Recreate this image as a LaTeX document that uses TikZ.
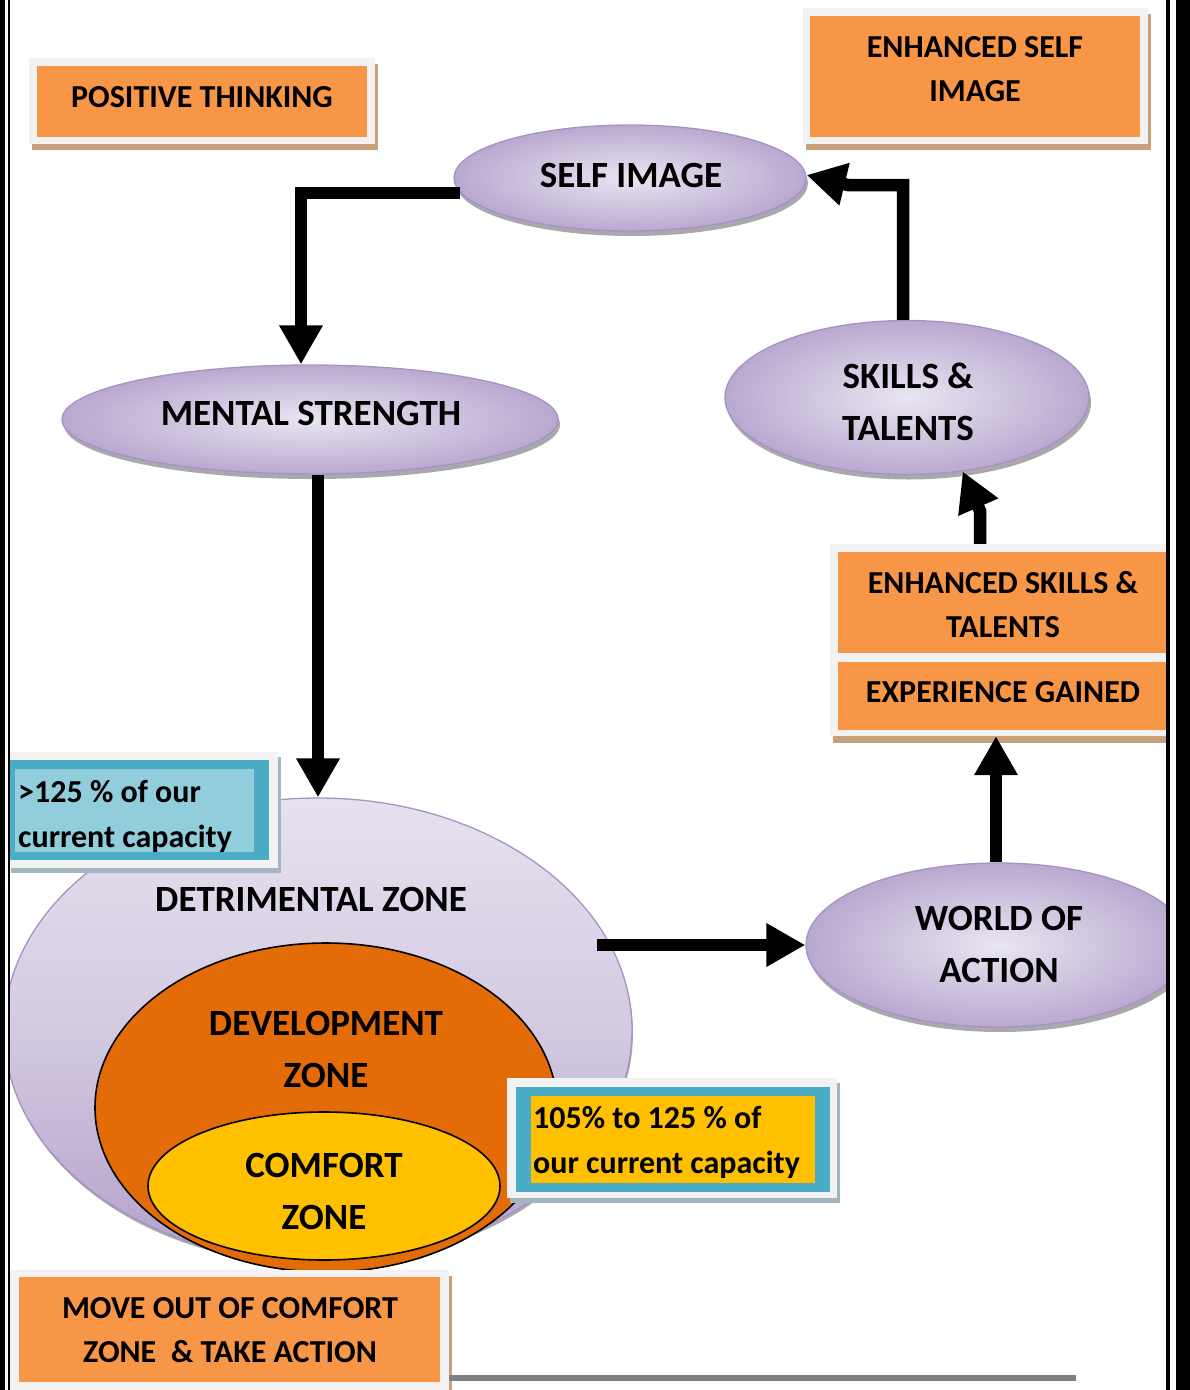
\documentclass[tikz,border=0pt]{standalone}
\usepackage{fontspec}
\setmainfont{Carlito}
\usetikzlibrary{shapes.geometric,arrows.meta,shadows}

\definecolor{boxorange}{HTML}{F79646}
\definecolor{framegray}{HTML}{F2F2F2}
\definecolor{tanshadow}{HTML}{C9A07C}
\definecolor{blueshadow}{HTML}{A2B6C1}
\definecolor{capblue}{HTML}{4BACC6}
\definecolor{paleblue}{HTML}{92CDDC}
\definecolor{gold}{HTML}{FFC000}
\definecolor{devorange}{HTML}{E36C09}
\definecolor{lavin}{HTML}{E9E5F1}
\definecolor{lavout}{HTML}{B9A9D0}
\definecolor{lavtop}{HTML}{E6E1EE}
\definecolor{lavbottom}{HTML}{B3A1CA}
\definecolor{lavborder}{HTML}{A792C5}
\definecolor{ellshadow}{HTML}{A9A9AD}
\definecolor{rulegray}{HTML}{808080}

\begin{document}
\begin{tikzpicture}[x=1pt,y=-1pt,
  boxtext/.style={font=\bfseries\fontsize{32}{44}\selectfont, align=center, inner sep=0pt},
  boxtextl/.style={font=\bfseries\fontsize{32}{45}\selectfont, align=left, inner sep=0pt, anchor=west},
  elltext/.style={font=\bfseries\fontsize{37}{52}\selectfont, align=center, inner sep=0pt},
  panel/.style={fill=framegray, inner sep=0pt, drop shadow={shadow xshift=2.5pt, shadow yshift=-6pt, fill=tanshadow, opacity=1}},
  bluepanel/.style={fill=framegray, inner sep=0pt, drop shadow={shadow xshift=3pt, shadow yshift=-5pt, fill=blueshadow, opacity=1}},
  fillbox/.style={inner sep=0pt},
  lav/.style={ellipse, draw=lavborder, line width=1.3pt, inner sep=0pt, inner color=lavin, outer color=lavout,
    drop shadow={shadow xshift=2pt, shadow yshift=-5pt, fill=ellshadow, opacity=1}},
  zone/.style={ellipse, draw=black, line width=1.6pt, inner sep=0pt},
  bigarrow/.style={line width=12.5pt, -{Triangle[length=39pt,width=41pt]}},
]
\useasboundingbox (0,0) rectangle (1190,1390);

\begin{scope}
\clip (10,0) rectangle (1166,1390);

% nested zones
\node[ellipse, draw=lavborder, line width=1.3pt, inner sep=0pt,
      top color=lavtop, bottom color=lavbottom, middle color=lavin!60!lavbottom,
      drop shadow={shadow xshift=1pt, shadow yshift=-3pt, fill=ellshadow, opacity=1},
      minimum width=628pt, minimum height=464pt] (big) at (318,1030) {};
\node[zone, fill=devorange, minimum width=462pt, minimum height=329pt] (dev) at (326,1107.5) {};
\node[zone, fill=gold, minimum width=352pt, minimum height=148pt] (comfort) at (324,1186) {};

% cycle ellipses
\node[lav, minimum width=352pt, minimum height=106pt] (self) at (630,178) {};
\node[lav, minimum width=496pt, minimum height=109pt] (mental) at (310,419.5) {};
\node[lav, minimum width=364pt, minimum height=154pt] (skills) at (907,397.5) {};
\node[lav, minimum width=384pt, minimum height=164pt] (world) at (998,945) {};

% orange panels
\node[panel, minimum width=346pt, minimum height=86pt] (ptframe) at (202,101) {};
\node[fillbox, fill=boxorange, minimum width=330pt, minimum height=71pt] (ptbox) at (202,101.5) {};

\node[panel, minimum width=345pt, minimum height=136pt] (esiframe) at (975.5,76) {};
\node[fillbox, fill=boxorange, minimum width=330pt, minimum height=121pt] (esibox) at (975,76.5) {};

\node[fill=framegray, inner sep=0pt, drop shadow={shadow xshift=3pt, shadow yshift=-7pt, fill=tanshadow, opacity=1},
      minimum width=355pt, minimum height=192pt] (eskframe) at (1007.5,640) {};
\node[fillbox, fill=boxorange, minimum width=347pt, minimum height=101pt] (esk) at (1011.5,602.5) {};
\node[fillbox, fill=boxorange, minimum width=347pt, minimum height=68pt] (exp) at (1011.5,696) {};

\node[panel, minimum width=444pt, minimum height=130pt] (moveframe) at (227,1335) {};
\node[fillbox, fill=boxorange, minimum width=421pt, minimum height=105pt] (movebox) at (229.5,1329.5) {};

% capacity panels
\node[bluepanel, minimum width=270pt, minimum height=116pt] (hiframe) at (143,810) {};
\node[fillbox, fill=capblue, minimum width=259pt, minimum height=100pt] (hiblue) at (139.5,810) {};
\node[fillbox, fill=paleblue, minimum width=239pt, minimum height=83pt] (hiin) at (134.5,810.5) {};

\node[bluepanel, minimum width=330pt, minimum height=120pt] (midframe) at (672,1138) {};
\node[fillbox, fill=capblue, minimum width=314pt, minimum height=105pt] (midblue) at (673,1139.5) {};
\node[fillbox, fill=gold, minimum width=284pt, minimum height=87pt] (midin) at (673,1139.5) {};

% labels
\node[boxtext] (pttext) at (202,97) {POSITIVE THINKING};
\node[boxtext] (esitext) at (975,69) {ENHANCED SELF\\IMAGE};
\node[elltext] (selftext) at (631,175) {SELF IMAGE};
\node[elltext] (mentaltext) at (311,413) {MENTAL STRENGTH};
\node[elltext] (skillstext) at (908,402) {SKILLS \&\\TALENTS};
\node[boxtext] (esktext) at (1003,604.5) {ENHANCED SKILLS \&\\TALENTS};
\node[boxtext] (exptext) at (1003,692) {EXPERIENCE GAINED};
\node[boxtextl] (hitext) at (18,816) {>125 \% of our\\current capacity};
\node[elltext] (dztext) at (311,899) {DETRIMENTAL ZONE};
\node[elltext] (worldtext) at (999,944) {WORLD OF\\ACTION};
\node[elltext] (devtext) at (326,1049.5) {DEVELOPMENT\\ZONE};
\node[elltext] (comforttext) at (324,1191.5) {COMFORT\\ZONE};
\node[boxtextl] (midtext) at (533,1142) {105\% to 125 \% of\\our current capacity};
\node[boxtext] (movetext) at (230,1330) {MOVE OUT OF COMFORT\\ZONE\ \ \& TAKE ACTION};

% connectors
\coordinate (dzout) at (597,945);
\coordinate (ebend) at (980,511);
\coordinate (fbend) at (903,185);
\coordinate (fbend2) at (848,185);
\coordinate (ruleend) at (1076,1378);

\draw[bigarrow] (self.185) -| ([xshift=-9pt]mental.north);
\draw[bigarrow] ([xshift=8pt]mental.south) -- ([xshift=8pt]mental.south |- big.north);
\draw[bigarrow] (dzout) -- (world.west);
\draw[bigarrow] ([xshift=-2pt]world.north) -- ([xshift=-2pt]world.north |- eskframe.south);
\draw[bigarrow] (eskframe.north -| ebend) -- (ebend) -- (skills.-53);
\draw[bigarrow] (skills.north -| fbend) -- (fbend) -- (fbend2) -- ([yshift=3pt]self.east);

% footer rule
\draw[line width=6pt, rulegray] (moveframe.east |- ruleend) -- (ruleend);
\end{scope}

% page border
\fill (0,0) rectangle (5,1390);
\fill (7.5,0) rectangle (10,1390);
\fill (1166,0) rectangle (1170,1390);
\fill (1176,0) rectangle (1190,1390);
\end{tikzpicture}
\end{document}
